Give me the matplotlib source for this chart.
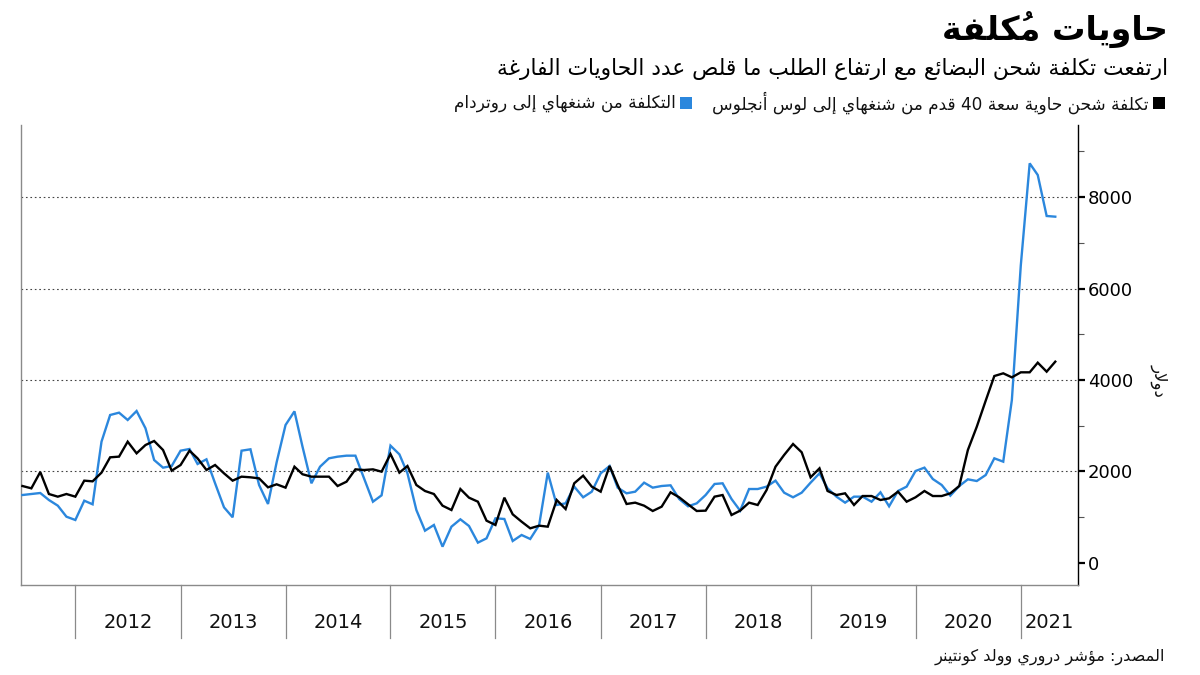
import matplotlib
matplotlib.use("Agg")
import matplotlib.pyplot as plt
import matplotlib.dates as mdates
from matplotlib.patches import Rectangle
from matplotlib.lines import Line2D
import pandas as pd
import numpy as np

# ---------------- data ----------------
start_month = "2011-07-01"
n_months = 119
years = [2012, 2013, 2014, 2015, 2016, 2017, 2018, 2019, 2020, 2021]

shanghai_la = [
    1683, 1632, 1989, 1508, 1450, 1508,
    1450, 1800, 1785, 1975, 2310, 2325, 2652, 2397, 2579, 2667, 2470, 2018,
    2142, 2455, 2288, 2033, 2142, 1960, 1800, 1887, 1873, 1850, 1654, 1720,
    1647, 2105, 1940, 1887, 1887, 1887, 1683, 1777, 2047, 2033, 2047, 1996,
    2382, 1975, 2120, 1705, 1574, 1508, 1253, 1158, 1617, 1428, 1340, 925,
    831, 1428, 1064, 903, 758, 816, 794, 1377, 1180, 1742, 1909, 1669,
    1559, 2120, 1705, 1290, 1319, 1253, 1137, 1231, 1545, 1436, 1283, 1137,
    1144, 1450, 1486, 1049, 1144, 1319, 1268, 1595, 2105, 2361, 2601, 2420,
    1873, 2069, 1574, 1486, 1523, 1268, 1464, 1464, 1377, 1413, 1559, 1340,
    1436, 1574, 1464, 1464, 1523, 1683, 2470, 2979, 3548, 4087, 4146, 4058,
    4168, 4168, 4379, 4182, 4401,
]

shanghai_rotterdam = [
    1486, 1508, 1530, 1377, 1253, 1012,
    940, 1362, 1283, 2652, 3235, 3286, 3126, 3322, 2944, 2251, 2084, 2120,
    2455, 2492, 2164, 2266, 1742, 1217, 999, 2455, 2485, 1705, 1290, 2200,
    3016, 3315, 2543, 1742, 2105, 2288, 2324, 2346, 2346, 1850, 1340, 1479,
    2565, 2375, 1960, 1158, 706, 831, 357, 794, 955, 809, 445, 539,
    977, 962, 481, 612, 525, 830, 1975, 1268, 1304, 1669, 1436, 1559,
    1960, 2120, 1647, 1523, 1559, 1756, 1647, 1683, 1698, 1399, 1239, 1304,
    1486, 1727, 1742, 1399, 1144, 1617, 1617, 1669, 1800, 1537, 1436, 1537,
    1756, 1960, 1632, 1450, 1319, 1450, 1450, 1340, 1545, 1239, 1574, 1669,
    2011, 2084, 1836, 1705, 1472, 1683, 1829, 1792, 1923, 2288, 2215, 3563,
    6500, 8736, 8481, 7585, 7570,
]

title = "حاويات مُكلفة"
subtitle = "ارتفعت تكلفة شحن البضائع مع ارتفاع الطلب ما قلص عدد الحاويات الفارغة"
label_la = "تكلفة شحن حاوية سعة 40 قدم من شنغهاي إلى لوس أنجلوس"
label_rot = "التكلفة من شنغهاي إلى روتردام"
source = "المصدر: مؤشر دروري وولد كونتينر"
y_unit = "دولار"
y_ticks = [0, 2000, 4000, 6000, 8000]

BLUE = "#2b87dd"

# ---------------- minimal Arabic shaping (presentation forms + visual order) ----------------
_forms_spec = [
    (0x0621, 0xFE80, 1), (0x0622, 0xFE81, 2), (0x0623, 0xFE83, 2), (0x0624, 0xFE85, 2),
    (0x0625, 0xFE87, 2), (0x0626, 0xFE89, 4), (0x0627, 0xFE8D, 2), (0x0628, 0xFE8F, 4),
    (0x0629, 0xFE93, 2), (0x062A, 0xFE95, 4), (0x062B, 0xFE99, 4), (0x062C, 0xFE9D, 4),
    (0x062D, 0xFEA1, 4), (0x062E, 0xFEA5, 4), (0x062F, 0xFEA9, 2), (0x0630, 0xFEAB, 2),
    (0x0631, 0xFEAD, 2), (0x0632, 0xFEAF, 2), (0x0633, 0xFEB1, 4), (0x0634, 0xFEB5, 4),
    (0x0635, 0xFEB9, 4), (0x0636, 0xFEBD, 4), (0x0637, 0xFEC1, 4), (0x0638, 0xFEC5, 4),
    (0x0639, 0xFEC9, 4), (0x063A, 0xFECD, 4), (0x0641, 0xFED1, 4), (0x0642, 0xFED5, 4),
    (0x0643, 0xFED9, 4), (0x0644, 0xFEDD, 4), (0x0645, 0xFEE1, 4), (0x0646, 0xFEE5, 4),
    (0x0647, 0xFEE9, 4), (0x0648, 0xFEED, 2), (0x0649, 0xFEEF, 2), (0x064A, 0xFEF1, 4),
]
FORMS = {chr(c): tuple(chr(s + k) for k in range(n)) for c, s, n in _forms_spec}
LAM_ALEF = {"\u0622": 0xFEF5, "\u0623": 0xFEF7, "\u0625": 0xFEF9, "\u0627": 0xFEFB}


def _is_mark(ch):
    return 0x064B <= ord(ch) <= 0x0652 or ord(ch) == 0x0670


def _nforms(b):
    if b.startswith("LA"):
        return 2
    return len(FORMS.get(b, ()))


def ar(s):
    clusters = []
    for ch in s:
        if _is_mark(ch) and clusters:
            clusters[-1][1] += ch
        else:
            clusters.append([ch, ""])
    merged = []
    i = 0
    while i < len(clusters):
        b, m = clusters[i]
        if b == "\u0644" and i + 1 < len(clusters) and clusters[i + 1][0] in LAM_ALEF:
            merged.append(["LA" + clusters[i + 1][0], m + clusters[i + 1][1]])
            i += 2
        else:
            merged.append([b, m])
            i += 1
    shaped = []
    for k, (b, m) in enumerate(merged):
        n = _nforms(b)
        if n == 0:
            shaped.append(m + b)
            continue
        pj = k > 0 and _nforms(merged[k - 1][0]) == 4 and n >= 2
        nj = n == 4 and k + 1 < len(merged) and _nforms(merged[k + 1][0]) >= 2
        if b.startswith("LA"):
            g = chr(LAM_ALEF[b[2]] + (1 if pj else 0))
        else:
            f = FORMS[b]
            if pj and nj:
                g = f[3]
            elif pj:
                g = f[1]
            elif nj:
                g = f[2]
            else:
                g = f[0]
        # mark placed before its base in visual order (zero-advance glyph)
        shaped.append(m + g)
    tokens = []
    for c in shaped:
        if c.isascii() and c.isalnum():
            if tokens and tokens[-1][0] == "L":
                tokens[-1][1] += c
            else:
                tokens.append(["L", c])
        else:
            tokens.append(["R", c])
    return "".join(t[1] for t in reversed(tokens))


plt.rcParams["font.family"] = ["DejaVu Sans"]

W, H = 1200, 675


def fx(x):
    return x / W


def fy(y):
    return 1 - y / H


fig = plt.figure(figsize=(12, 6.75), dpi=100)
fig.patch.set_facecolor("white")

ax_l, ax_r, ax_t, ax_b = 21, 1078, 125, 585
ax = fig.add_axes([fx(ax_l), fy(ax_b), (ax_r - ax_l) / W, (ax_b - ax_t) / H])

dates = pd.date_range(start_month, periods=n_months, freq="MS")
ax.plot(dates, shanghai_rotterdam, color=BLUE, lw=1.7, solid_joinstyle="miter", zorder=3)
ax.plot(dates, shanghai_la, color="black", lw=1.7, solid_joinstyle="miter", zorder=4)

ax.set_xlim(pd.Timestamp("2011-06-26"), pd.Timestamp("2021-07-19"))
ax.set_ylim(-481, 9574)

for v in y_ticks[1:]:
    ax.axhline(v, color="#444444", lw=0.8, ls=(0, (1.5, 2.5)), zorder=1)

ax.spines["top"].set_visible(False)
ax.spines["left"].set_color("#8a8a8a")
ax.spines["bottom"].set_color("#8a8a8a")
ax.spines["right"].set_color("black")
for s in ["left", "bottom", "right"]:
    ax.spines[s].set_linewidth(1.0)

ax.yaxis.tick_right()
ax.set_yticks(y_ticks)
ax.set_yticklabels([str(v) for v in y_ticks])
ax.set_yticks([1000, 3000, 5000, 7000, 9000], minor=True)
ax.tick_params(axis="y", which="major", direction="out", length=5, width=1.6,
               color="black", labelsize=13, pad=2)
ax.tick_params(axis="y", which="minor", direction="out", length=4, width=0.8,
               color="#555555")
ax.tick_params(axis="y", which="both", left=False)
ax.set_xticks([])

year_starts = [pd.Timestamp(f"{y}-01-01") for y in years]
right_edge = ax.get_xlim()[1]
trans = ax.get_xaxis_transform()
for k, ys in enumerate(year_starts):
    xs = mdates.date2num(ys)
    ax.add_line(Line2D([xs, xs], [0, -53 / 460], transform=trans, color="#8a8a8a",
                       lw=0.9, clip_on=False))
    xe = mdates.date2num(year_starts[k + 1]) if k + 1 < len(year_starts) else right_edge
    ax.text((xs + xe) / 2, -38 / 460, str(years[k]), transform=trans, ha="center",
            va="center", fontsize=14, color="#111111")

fig.text(fx(1160), fy(380), ar(y_unit), rotation=270, ha="center", va="center",
         fontsize=12, color="#111111")

fig.text(fx(1168), fy(29), ar(title), ha="right", va="center", fontsize=24,
         fontweight="bold", color="black")
fig.text(fx(1168), fy(69), ar(subtitle), ha="right", va="center", fontsize=15.7,
         color="black")

renderer = fig.canvas.get_renderer()
sq = 12
fig.patches.append(Rectangle((fx(1153), fy(109)), sq / W, sq / H, transform=fig.transFigure,
                             facecolor="black", edgecolor="none"))
t1 = fig.text(fx(1149), fy(103), ar(label_la), ha="right", va="center", fontsize=12.2,
              color="#111111")
bb = t1.get_window_extent(renderer)
left_px = bb.x0
sq_right = left_px - 21
fig.patches.append(Rectangle(((sq_right - sq) / W, fy(109)), sq / W, sq / H,
                             transform=fig.transFigure, facecolor=BLUE, edgecolor="none"))
fig.text((sq_right - sq - 4) / W, fy(103), ar(label_rot), ha="right", va="center",
         fontsize=12.2, color="#111111")

fig.text(fx(1165), fy(657), ar(source), ha="right", va="center", fontsize=11.6,
         color="#111111")

fig.savefig("out.png", dpi=100, facecolor="white")
